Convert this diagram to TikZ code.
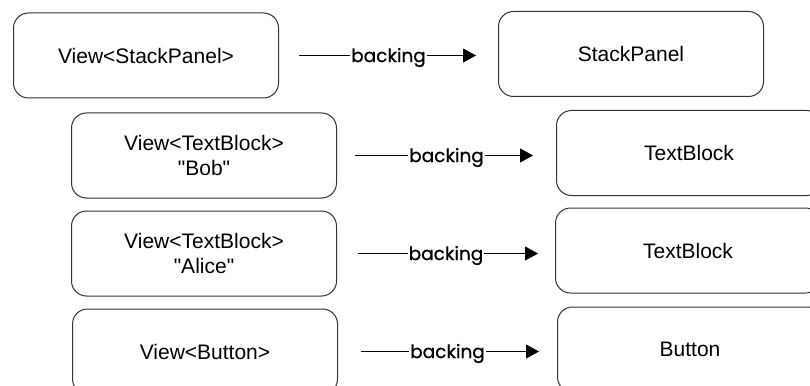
\documentclass[tikz,border=0pt]{standalone}
\usepackage{fontspec}
\setmainfont{Liberation Sans}
\newfontfamily\handfont[FakeBold=0.7]{Poppins}
\usetikzlibrary{positioning,arrows.meta}

\begin{document}
\begin{tikzpicture}[x=1pt, y=1pt, node distance=12pt,
        box/.style={rectangle, draw=black!80, line width=1pt, rounded corners=15pt, minimum width=265pt, minimum height=85pt, align=center, font=\fontsize{21}{25}\selectfont},
        link/.style={-{Triangle[length=13pt,width=14pt]}, line width=0.9pt},
        lbl/.style={fill=white, inner sep=1pt, yshift=-2pt, font=\handfont\fontsize{18.5}{20}\selectfont}]

        \useasboundingbox (0,0) rectangle (810,-385);
        \clip (0,0) rectangle (810,-385);

        % views on the left
        \node[box] (vpanel) at (146,-55.5) {View<StackPanel>};
        \node[box, below=14pt of vpanel, xshift=58pt] (vbob) {View<TextBlock>\\\textquotedbl Bob\textquotedbl};
        \node[box, below=of vbob] (valice) {View<TextBlock>\\\textquotedbl Alice\textquotedbl};
        \node[box, below=of valice, xshift=1pt] (vbtn) {View<Button>};

        % backing controls on the right
        \node[box, right=219pt of vpanel, yshift=1.5pt] (panel) {StackPanel};
        \node[box, right=219pt of vbob, yshift=2.5pt] (bob) {TextBlock};
        \node[box, right=218pt of valice, yshift=3pt] (alice) {TextBlock};
        \node[box, right=219pt of vbtn, yshift=2pt] (btn) {Button};

        \draw[link, shorten <=20pt, shorten >=22pt] (vpanel.east) -- (vpanel.east -| panel.west) node[midway, lbl] {backing};
        \draw[link, shorten <=18pt, shorten >=23pt] (vbob.east) -- (vbob.east -| bob.west) node[midway, lbl] {backing};
        \draw[link, shorten <=21pt, shorten >=17pt] (valice.east) -- (valice.east -| alice.west) node[midway, lbl] {backing};
        \draw[link, shorten <=23pt, shorten >=18pt] (vbtn.east) -- (vbtn.east -| btn.west) node[midway, lbl] {backing};
    \end{tikzpicture}
\end{document}
